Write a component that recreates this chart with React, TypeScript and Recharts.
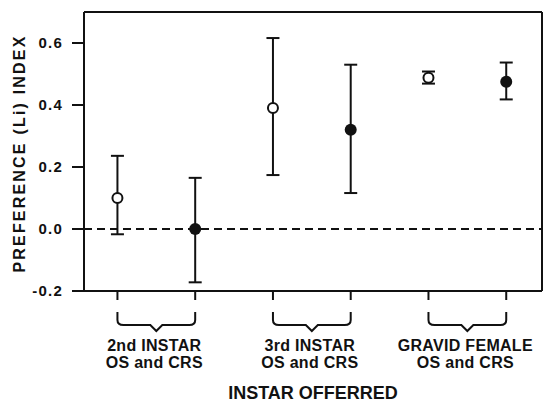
import {
  ComposedChart,
  Scatter,
  ErrorBar,
  XAxis,
  YAxis,
  ReferenceLine,
  Label,
} from "recharts";

// six treatments, open = OS, filled = CRS
const positions = [1, 2, 3, 4, 5, 6];
const means = [0.1, 0.0, 0.39, 0.32, 0.488, 0.475];
const upper = [0.236, 0.165, 0.616, 0.53, 0.508, 0.537];
const lower = [-0.017, -0.172, 0.174, 0.116, 0.469, 0.418];
const filled = [false, true, false, true, false, true];

const groupLine1 = ["2nd INSTAR", "3rd INSTAR", "GRAVID FEMALE"];
const groupLine2 = ["OS and CRS", "OS and CRS", "OS and CRS"];
const yTicks = [-0.2, 0.0, 0.2, 0.4, 0.6];

const X_DOMAIN: [number, number] = [0.57, 6.46];
const Y_DOMAIN: [number, number] = [-0.2, 0.7];
const FONT = "'Liberation Sans', Arial, Helvetica, sans-serif";
const INK = "#111";

const rows = positions.map((x, i) => ({
  x,
  y: means[i],
  err: [means[i] - lower[i], upper[i] - means[i]],
  filled: filled[i],
}));
const openRows = rows.filter((r) => !r.filled);
const filledRows = rows.filter((r) => r.filled);

const OpenDot = (p: any) => (
  <circle cx={p.cx} cy={p.cy} r={5} fill="#fff" stroke={INK} strokeWidth={2} />
);
const FilledDot = (p: any) => <circle cx={p.cx} cy={p.cy} r={6} fill={INK} />;

function BraceTick(props: any) {
  const { x, y, payload, width } = props;
  const v = payload.value as number;
  const tickLine = <line x1={x} y1={y - 9} x2={x} y2={y} stroke={INK} strokeWidth={2} />;
  if (v % 2 === 0) return <g>{tickLine}</g>;
  const unit = (typeof width === "number" ? width : 458) / (X_DOMAIN[1] - X_DOMAIN[0]);
  const x1 = x;
  const x2 = x + unit;
  const cx = (x1 + x2) / 2;
  const top = y + 12;
  const mid = y + 25;
  const d = `M ${x1} ${top} L ${x1} ${mid - 5} Q ${x1} ${mid} ${x1 + 6} ${mid} L ${cx - 6} ${mid} L ${cx} ${mid + 6} L ${cx + 6} ${mid} L ${x2 - 6} ${mid} Q ${x2} ${mid} ${x2} ${mid - 5} L ${x2} ${top}`;
  const g = (v - 1) / 2;
  const txt = {
    textAnchor: "middle" as const,
    fontSize: 16,
    fontWeight: "bold",
    fontFamily: FONT,
    fill: INK,
    letterSpacing: 0.3,
  };
  return (
    <g>
      {tickLine}
      <path d={d} fill="none" stroke={INK} strokeWidth={2} />
      <text x={cx - 2} y={y + 51} {...txt}>
        {groupLine1[g]}
      </text>
      <text x={cx - 2} y={y + 68} {...txt}>
        {groupLine2[g]}
      </text>
    </g>
  );
}

export default function App() {
  return (
    <div style={{ position: "absolute", left: 0, top: 0, background: "#fff" }}>
      <ComposedChart
        width={543}
        height={403}
        margin={{ top: 12, right: 1, left: 0, bottom: 0 }}
      >
        <XAxis
          dataKey="x"
          type="number"
          domain={X_DOMAIN}
          ticks={positions}
          allowDataOverflow
          height={112}
          tickLine={false}
          tickSize={9}
          tickMargin={0}
          tick={<BraceTick />}
          axisLine={{ stroke: INK, strokeWidth: 2 }}
        >
          <Label
            value="INSTAR OFFERRED"
            position="insideBottom"
            offset={4}
            fontSize={18}
            fontWeight="bold"
            fontFamily={FONT}
            fill={INK}
          />
        </XAxis>
        <YAxis
          type="number"
          domain={Y_DOMAIN}
          ticks={yTicks}
          allowDataOverflow
          width={84}
          tickSize={12}
          tickMargin={9}
          tickFormatter={(v: number) => v.toFixed(1)}
          tick={{ fontSize: 15, fontWeight: "bold", fill: INK, fontFamily: FONT, letterSpacing: 1.2 }}
          tickLine={{ stroke: INK, strokeWidth: 2 }}
          axisLine={{ stroke: INK, strokeWidth: 2 }}
        >
          <Label
            content={({ viewBox }: any) => {
              const cx = viewBox.x + 19;
              const cy = viewBox.y + viewBox.height / 2 + 2;
              return (
                <text
                  x={cx}
                  y={cy}
                  transform={`rotate(-90 ${cx} ${cy})`}
                  textAnchor="middle"
                  dominantBaseline="central"
                  fontSize={16}
                  fontWeight="bold"
                  letterSpacing={2.2}
                  fontFamily={FONT}
                  fill={INK}
                >
                  PREFERENCE (Li) INDEX
                </text>
              );
            }}
          />
        </YAxis>
        {/* top and right edges of the frame */}
        <ReferenceLine y={Y_DOMAIN[1]} stroke={INK} strokeWidth={2} ifOverflow="visible" />
        <ReferenceLine x={X_DOMAIN[1]} stroke={INK} strokeWidth={2} ifOverflow="visible" />
        <ReferenceLine y={0} stroke={INK} strokeWidth={2} strokeDasharray="8 5" />
        <Scatter
          data={openRows}
          dataKey="y"
          shape={OpenDot}
          isAnimationActive={false}
        >
          <ErrorBar dataKey="err" direction="y" width={6.5} stroke={INK} strokeWidth={2} />
        </Scatter>
        <Scatter
          data={filledRows}
          dataKey="y"
          shape={FilledDot}
          isAnimationActive={false}
        >
          <ErrorBar dataKey="err" direction="y" width={6.5} stroke={INK} strokeWidth={2} />
        </Scatter>
      </ComposedChart>
    </div>
  );
}
